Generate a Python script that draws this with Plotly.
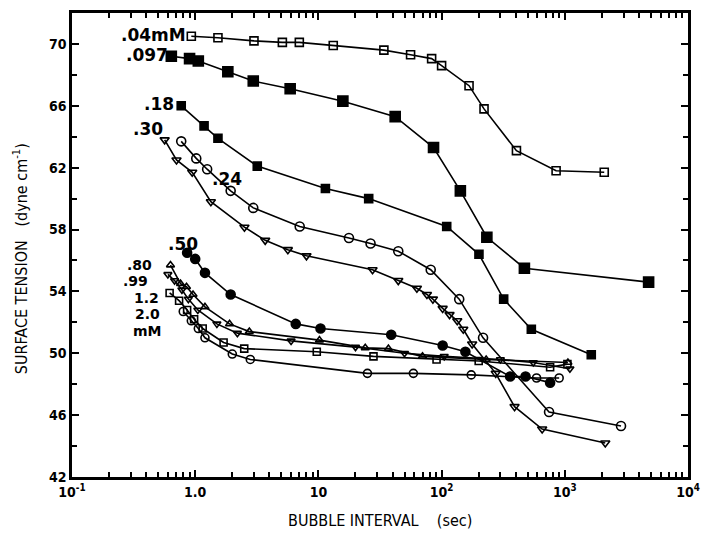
import plotly.graph_objects as go

# Surface tension of bubbles vs. bubble interval, one curve per concentration (mM)

x_004 = [0.93, 1.53, 3.0, 5.1, 7.0, 13.2, 34, 56, 83, 100, 167, 221, 405, 850, 2090]
y_004 = [70.5, 70.4, 70.2, 70.1, 70.1, 69.9, 69.6, 69.3, 69.05, 68.6, 67.3, 65.8, 63.1, 61.8, 61.7]

x_097 = [0.64, 0.9, 1.06, 1.84, 2.96, 5.9, 15.8, 42, 86, 142, 233, 470, 4790]
y_097 = [69.2, 69.05, 68.9, 68.2, 67.6, 67.1, 66.3, 65.3, 63.3, 60.5, 57.5, 55.5, 54.6]

x_018 = [0.77, 1.18, 1.53, 3.19, 11.4, 25.6, 110, 201, 319, 535, 1640]
y_018 = [66.0, 64.7, 63.9, 62.1, 60.65, 60.0, 58.2, 56.4, 53.5, 51.55, 49.9]

x_030 = [0.565, 0.705, 0.946, 1.34, 2.51, 3.70, 5.65, 8.0, 27.5, 44.5, 63, 76, 85,
         102, 116, 134, 150, 177, 275, 391, 655, 2130]
y_030 = [63.8, 62.5, 61.7, 59.8, 58.15, 57.3, 56.7, 56.3, 55.4, 54.7, 54.2, 53.8, 53.5,
         52.9, 52.5, 52.1, 51.55, 50.6, 48.7, 46.55, 45.1, 44.2]

x_024 = [0.77, 1.02, 1.25, 1.94, 2.96, 7.05, 17.7, 26.5, 44.5, 81.6, 139, 217, 745, 2860]
y_024 = [63.7, 62.6, 61.9, 60.5, 59.4, 58.2, 57.45, 57.1, 56.6, 55.4, 53.5, 51.0, 46.2, 45.3]

x_050 = [0.86, 1.0, 1.2, 1.94, 6.55, 10.4, 39, 102, 156, 360, 480, 760]
y_050 = [56.5, 56.1, 55.2, 53.8, 51.9, 51.6, 51.2, 50.5, 50.1, 48.5, 48.5, 48.1]

x_080 = [0.63, 0.76, 0.85, 0.96, 1.2, 1.9, 2.75, 10.2, 24, 37, 70, 230, 1060]
y_080 = [55.7, 54.5, 54.3, 53.8, 53.0, 51.9, 51.4, 50.85, 50.35, 50.3, 49.8, 49.6, 49.4]

x_099 = [0.60, 0.68, 0.78, 0.88, 1.05, 1.5, 2.2, 6.0, 20, 50, 105, 300, 555, 1100]
y_099 = [55.1, 54.7, 54.1, 53.5, 52.8, 51.9, 51.3, 50.8, 50.4, 50.0, 49.8, 49.6, 49.4, 49.0]

x_120 = [0.62, 0.74, 0.86, 0.98, 1.15, 1.7, 2.5, 9.7, 28, 91, 200, 760, 1050]
y_120 = [53.9, 53.4, 52.8, 52.2, 51.6, 50.7, 50.3, 50.1, 49.8, 49.6, 49.5, 49.1, 49.3]

x_200 = [0.80, 0.93, 1.06, 1.2, 2.0, 2.8, 25, 59, 174, 590, 900]
y_200 = [52.7, 52.1, 51.6, 51.0, 49.95, 49.6, 48.7, 48.7, 48.6, 48.4, 48.4]

series = [
    (x_004, y_004, "square-open", 8),
    (x_097, y_097, "square", 10),
    (x_018, y_018, "square", 8),
    (x_030, y_030, "triangle-down-open", 8),
    (x_024, y_024, "circle-open", 9),
    (x_050, y_050, "circle", 9),
    (x_080, y_080, "triangle-up-open", 7),
    (x_099, y_099, "triangle-down-open", 7),
    (x_120, y_120, "square-open", 7),
    (x_200, y_200, "circle-open", 8),
]

fig = go.Figure()
for xs, ys, sym, sz in series:
    fig.add_trace(go.Scatter(
        x=xs, y=ys, mode="lines+markers", showlegend=False,
        line=dict(color="black", width=1.6),
        marker=dict(symbol=sym, size=sz, color="black",
                    line=dict(color="black", width=1.6)),
    ))

# plot area in pixels: left 72, right 697, top 10, bottom 477
L, R, T, B = 72, 697, 10, 477


def px(x):
    return (x - L) / (R - L)


def py(y):
    return (B - y) / (B - T)


label_font = dict(family="DejaVu Sans", size=17, color="black", weight="bold")
small_font = dict(family="DejaVu Sans", size=14, color="black", weight="bold")
conc_labels = [
    (".04mM", 190, 32, "right", label_font),
    (".097", 171, 52, "right", label_font),
    (".18", 178, 102, "right", label_font),
    (".30", 166, 127, "right", label_font),
    (".24", 212, 177, "left", label_font),
    (".50", 167, 242, "left", label_font),
    (".80", 126, 264, "left", small_font),
    (".99", 122, 280, "left", small_font),
    ("1.2", 133, 297, "left", small_font),
    ("2.0", 134, 313, "left", small_font),
    ("mM", 132, 330, "left", small_font),
]
annotations = [
    dict(text=t, x=px(x), y=py(y), xref="paper", yref="paper", xanchor=a,
         yanchor="middle", showarrow=False, font=f)
    for t, x, y, a, f in conc_labels
]

title_font = dict(family="DejaVu Sans Condensed", size=16, color="black")
annotations.append(dict(text="BUBBLE INTERVAL    (sec)", x=px(385), y=py(521),
                        xref="paper", yref="paper", xanchor="center", yanchor="middle",
                        showarrow=False, font=title_font))
annotations.append(dict(text="SURFACE TENSION   (dyne cm<sup>-1</sup>)", x=px(20), y=py(257),
                        xref="paper", yref="paper", xanchor="center", yanchor="middle",
                        textangle=-90, showarrow=False, font=title_font))

minor_x = [k * 10 ** d for d in range(-1, 4) for k in range(2, 10)]
tick_font = dict(family="DejaVu Sans Condensed", size=14, color="black", weight="bold")

fig.update_layout(
    width=710, height=543,
    margin=dict(l=L, r=710 - R, t=T, b=543 - B),
    paper_bgcolor="white", plot_bgcolor="white",
    annotations=annotations,
    xaxis=dict(
        type="log", range=[-1, 4],
        tickvals=[0.1, 1, 10, 100, 1000, 10000],
        ticktext=["10<sup>-1</sup>", "1.0", "10", "10<sup>2</sup>", "10<sup>3</sup>", "10<sup>4</sup>"],
        ticks="inside", ticklen=7, tickwidth=2, tickcolor="black",
        showline=True, linewidth=2.5, linecolor="black", mirror="ticks",
        showgrid=False, zeroline=False, tickfont=tick_font,
        minor=dict(tickvals=minor_x, ticks="inside", ticklen=5, tickwidth=2,
                   tickcolor="black", showgrid=False),
    ),
    yaxis=dict(
        range=[42, 72],
        tickvals=[42, 46, 50, 54, 58, 62, 66, 70],
        ticks="inside", ticklen=7, tickwidth=2, tickcolor="black",
        showline=True, linewidth=2.5, linecolor="black", mirror="ticks",
        showgrid=False, zeroline=False, tickfont=tick_font,
        minor=dict(tickvals=[44, 48, 52, 56, 60, 64, 68], ticks="inside", ticklen=5,
                   tickwidth=2, tickcolor="black", showgrid=False),
    ),
)

fig.write_html("out.html")
